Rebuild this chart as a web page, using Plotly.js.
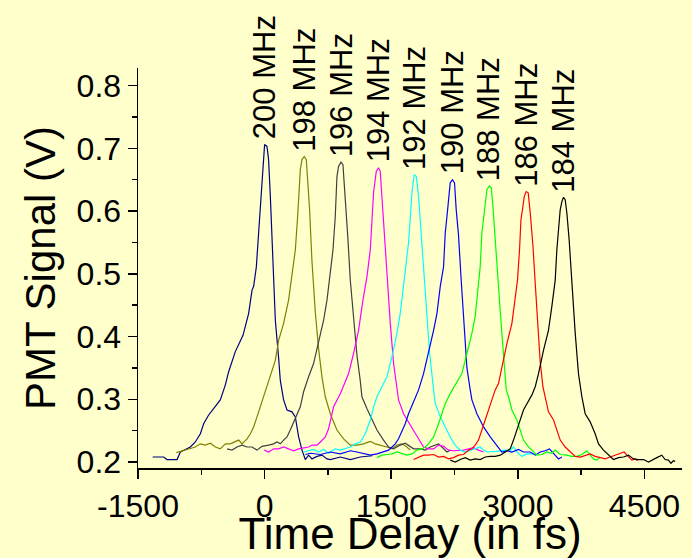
<!DOCTYPE html>
<html>
<head>
<meta charset="utf-8">
<script src="https://cdn.plot.ly/plotly-3.0.1.min.js"></script>
<style>html,body{margin:0;padding:0;background:#ffffcc;}#chart{width:692px;height:558px;}</style>
</head>
<body>
<div id="chart"></div>
<script>
// Series labels (repetition rate) and colours
const labels = ['200 MHz','198 MHz','196 MHz','194 MHz','192 MHz','190 MHz','188 MHz','186 MHz','184 MHz'];
const colors = ['#000080','#808000','#404040','#ff00ff','#00ffff','#0000ff','#00ff00','#ff0000','#000000'];

// Time delay (fs) / PMT signal (V)
const x200 = [-1326,-1196,-1156,-1037,-998,-939,-880,-821,-761,-722,-663,-604,-525,-465,-426,-347,-256,-189,-149,-130,-98,-71,-31,0,28,47,68,99,127,166,186,225,265,324,364,403,443,482,521,561,621,680,739,778,897,1015,1133,1276];
const y200 = [0.208,0.208,0.204,0.204,0.216,0.220,0.224,0.232,0.245,0.261,0.275,0.285,0.299,0.323,0.344,0.376,0.402,0.437,0.474,0.480,0.511,0.565,0.650,0.706,0.703,0.682,0.623,0.517,0.426,0.366,0.330,0.299,0.283,0.280,0.272,0.240,0.219,0.204,0.211,0.205,0.209,0.211,0.205,0.204,0.208,0.204,0.208,0.210];

const x198 = [-1046,-880,-821,-761,-702,-643,-584,-525,-465,-406,-347,-308,-268,-208,-169,-130,-90,-51,-4,47,68,127,166,225,284,324,364,391,403,423,443,470,494,509,533,561,600,640,680,719,778,857,936,1015,1094,1172,1252,1311,1370,1450,1509,1568,1627,1686,1726];
const y198 = [0.215,0.221,0.224,0.229,0.227,0.230,0.224,0.221,0.229,0.229,0.232,0.235,0.229,0.237,0.245,0.256,0.272,0.288,0.309,0.330,0.336,0.362,0.394,0.421,0.458,0.496,0.538,0.591,0.618,0.666,0.682,0.687,0.682,0.650,0.602,0.520,0.440,0.380,0.335,0.304,0.277,0.251,0.237,0.227,0.227,0.229,0.233,0.229,0.227,0.224,0.221,0.227,0.229,0.224,0.219];

const x196 = [-445,-386,-327,-268,-208,-149,-90,-31,47,107,147,186,225,265,304,343,384,423,462,502,521,580,640,699,739,778,810,837,857,876,905,928,956,985,1015,1054,1094,1133,1153,1213,1272,1331,1409,1469,1528,1607,1666,1705,1765,1844,1903,1962,2022,2061,2101,2160,2199];
const y196 = [0.221,0.219,0.224,0.227,0.224,0.224,0.219,0.225,0.227,0.229,0.232,0.229,0.235,0.240,0.251,0.264,0.277,0.288,0.312,0.330,0.336,0.357,0.394,0.426,0.458,0.501,0.538,0.591,0.655,0.671,0.678,0.674,0.623,0.560,0.490,0.430,0.370,0.330,0.304,0.285,0.269,0.251,0.235,0.224,0.221,0.227,0.230,0.227,0.221,0.221,0.219,0.224,0.227,0.229,0.224,0.216,0.219];

const x194 = [-4,47,107,166,225,284,343,403,462,521,561,621,660,719,758,817,897,956,995,1054,1113,1165,1213,1252,1272,1291,1323,1350,1370,1390,1409,1450,1489,1528,1568,1587,1646,1705,1765,1824,1883,1942,2002,2061,2120,2180,2238,2357,2416,2475,2534,2594];
const y194 = [0.219,0.216,0.221,0.221,0.224,0.221,0.218,0.221,0.223,0.224,0.227,0.227,0.232,0.240,0.253,0.288,0.309,0.330,0.341,0.373,0.410,0.458,0.496,0.538,0.581,0.630,0.663,0.669,0.663,0.623,0.570,0.485,0.421,0.357,0.315,0.299,0.277,0.264,0.251,0.237,0.224,0.221,0.221,0.227,0.225,0.219,0.218,0.219,0.221,0.223,0.219,0.216];

const x192 = [462,521,580,640,699,758,837,897,956,1015,1074,1133,1192,1252,1291,1331,1390,1450,1509,1568,1607,1639,1666,1705,1726,1746,1773,1797,1824,1852,1883,1915,1954,2002,2022,2081,2140,2199,2258,2318,2377,2436,2495,2554,2594,2634,2740,2851,2910,2949,2989,3048,3108,3186];
const y192 = [0.216,0.218,0.220,0.216,0.220,0.214,0.221,0.219,0.221,0.224,0.229,0.232,0.245,0.267,0.288,0.304,0.320,0.336,0.368,0.405,0.437,0.474,0.511,0.549,0.590,0.630,0.658,0.655,0.623,0.570,0.506,0.440,0.375,0.315,0.293,0.272,0.256,0.240,0.227,0.219,0.216,0.219,0.221,0.224,0.219,0.216,0.217,0.219,0.218,0.224,0.216,0.209,0.213,0.213];

const x190 = [482,541,660,778,897,1015,1094,1172,1252,1331,1409,1469,1509,1548,1587,1627,1666,1705,1746,1785,1824,1883,1942,2002,2042,2081,2120,2140,2160,2180,2199,2226,2250,2270,2297,2329,2365,2397,2436,2456,2515,2594,2673,2752,2811,2871,2930,3008,3067,3147,3206,3265,3324,3375,3423,3482,3522];
const y190 = [0.212,0.214,0.212,0.216,0.213,0.218,0.216,0.213,0.211,0.213,0.216,0.219,0.224,0.229,0.237,0.248,0.261,0.277,0.291,0.304,0.315,0.341,0.373,0.410,0.437,0.480,0.511,0.565,0.591,0.625,0.645,0.650,0.645,0.602,0.562,0.490,0.415,0.350,0.315,0.299,0.277,0.256,0.240,0.227,0.216,0.218,0.216,0.220,0.216,0.216,0.211,0.216,0.218,0.221,0.213,0.205,0.208];

const x188 = [1331,1390,1450,1509,1568,1627,1686,1746,1805,1864,1903,1942,2002,2061,2101,2140,2199,2258,2337,2397,2456,2495,2523,2554,2574,2594,2614,2634,2662,2686,2705,2732,2760,2792,2831,2863,2890,2930,2989,3028,3067,3127,3186,3226,3285,3344,3403,3443,3502,3581,3640,3700,3759,3818,3857,3897,3936,3976];
const y188 = [0.207,0.211,0.212,0.213,0.216,0.213,0.211,0.213,0.219,0.221,0.224,0.229,0.240,0.261,0.277,0.293,0.309,0.322,0.341,0.373,0.405,0.432,0.469,0.511,0.565,0.591,0.618,0.634,0.640,0.637,0.607,0.550,0.490,0.440,0.370,0.315,0.304,0.283,0.267,0.251,0.235,0.224,0.216,0.211,0.212,0.216,0.214,0.219,0.212,0.211,0.209,0.209,0.212,0.218,0.211,0.205,0.203,0.208];

const x186 = [1765,1824,1883,1942,2002,2061,2120,2180,2238,2297,2357,2416,2456,2495,2534,2574,2614,2653,2693,2732,2771,2811,2871,2930,2969,2996,3020,3037,3060,3076,3099,3123,3147,3179,3206,3238,3265,3297,3324,3363,3423,3462,3502,3561,3620,3680,3739,3798,3857,3916,3976,4035,4094,4153,4212,4260,4292,4351,4390,4417];
const y186 = [0.204,0.207,0.211,0.211,0.212,0.208,0.209,0.205,0.207,0.211,0.212,0.219,0.221,0.227,0.235,0.251,0.267,0.283,0.299,0.315,0.325,0.352,0.389,0.421,0.458,0.490,0.538,0.586,0.607,0.623,0.631,0.629,0.597,0.545,0.485,0.421,0.360,0.320,0.304,0.280,0.267,0.251,0.235,0.224,0.216,0.209,0.208,0.211,0.213,0.209,0.207,0.205,0.208,0.211,0.213,0.216,0.211,0.203,0.205,0.202];

const x184 = [2199,2258,2318,2377,2436,2495,2554,2614,2673,2732,2792,2851,2910,2949,2989,3028,3067,3108,3167,3206,3245,3304,3363,3403,3443,3462,3482,3502,3522,3541,3561,3581,3608,3640,3680,3719,3759,3798,3857,3916,3956,4015,4074,4133,4193,4252,4311,4370,4429,4489,4548,4607,4647,4706,4745,4785,4813,4844,4864];
const y184 = [0.203,0.200,0.204,0.207,0.203,0.205,0.204,0.208,0.209,0.209,0.211,0.216,0.221,0.235,0.251,0.267,0.283,0.293,0.307,0.320,0.341,0.378,0.410,0.448,0.490,0.538,0.565,0.602,0.615,0.622,0.618,0.597,0.554,0.480,0.405,0.340,0.304,0.277,0.264,0.245,0.229,0.219,0.211,0.204,0.207,0.208,0.211,0.205,0.204,0.204,0.200,0.205,0.207,0.211,0.204,0.203,0.198,0.202,0.201];

// Axis ticks
const xTicks = [-1500, 0, 1500, 3000, 4500];
const yTicks = [0.2, 0.3, 0.4, 0.5, 0.6, 0.7, 0.8];

const xs = [x200,x198,x196,x194,x192,x190,x188,x186,x184];
const ys = [y200,y198,y196,y194,y192,y190,y188,y186,y184];

const traces = xs.map((x, i) => ({
  x: x, y: ys[i], type: 'scatter', mode: 'lines', name: labels[i],
  line: {color: colors[i], width: 1.2}, hoverinfo: 'x+y+name'
}));

const annotations = xs.map((x, i) => {
  const y = ys[i];
  let k = 0;
  for (let j = 1; j < y.length; j++) if (y[j] > y[k]) k = j;
  return {
    x: x[k], y: y[k], xref: 'x', yref: 'y', text: labels[i], showarrow: false,
    textangle: -90, xanchor: 'center', yanchor: 'bottom', yshift: 3,
    font: {family: 'Liberation Sans, Arial, sans-serif', size: 31, color: '#000'}
  };
});

const font = 'Liberation Sans, Arial, sans-serif';
const layout = {
  width: 692, height: 558,
  margin: {l: 138, r: 10, t: 68, b: 90, pad: 0},
  paper_bgcolor: '#ffffcc', plot_bgcolor: '#ffffcc',
  showlegend: false,
  font: {family: font, color: '#000'},
  xaxis: {
    range: [-1500, 4945], tickvals: xTicks, ticktext: xTicks.map(String),
    ticks: 'outside', ticklen: 9, tickwidth: 1.5, tickcolor: '#000',
    minor: {tickvals: [-750, 750, 2250, 3750], ticks: 'outside', ticklen: 5, tickwidth: 1.5, tickcolor: '#000'},
    showline: true, linecolor: '#000', linewidth: 1.5, showgrid: false, zeroline: false,
    tickfont: {family: font, size: 32, color: '#000'},
    title: {text: 'Time Delay (in fs)', font: {family: font, size: 44, color: '#000'}, standoff: 6}
  },
  yaxis: {
    range: [0.1905, 0.828], tickvals: yTicks, ticktext: yTicks.map(v => v.toFixed(1)),
    ticks: 'outside', ticklen: 9, tickwidth: 1.5, tickcolor: '#000',
    minor: {tickvals: [0.25, 0.35, 0.45, 0.55, 0.65, 0.75], ticks: 'outside', ticklen: 5, tickwidth: 1.5, tickcolor: '#000'},
    showline: true, linecolor: '#000', linewidth: 1.5, showgrid: false, zeroline: false,
    tickfont: {family: font, size: 32, color: '#000'},
    title: {text: 'PMT Signal (V)', font: {family: font, size: 42, color: '#000'}, standoff: 8}
  },
  annotations: annotations
};

Plotly.newPlot('chart', traces, layout, {displayModeBar: false, staticPlot: true});
</script>
</body>
</html>
